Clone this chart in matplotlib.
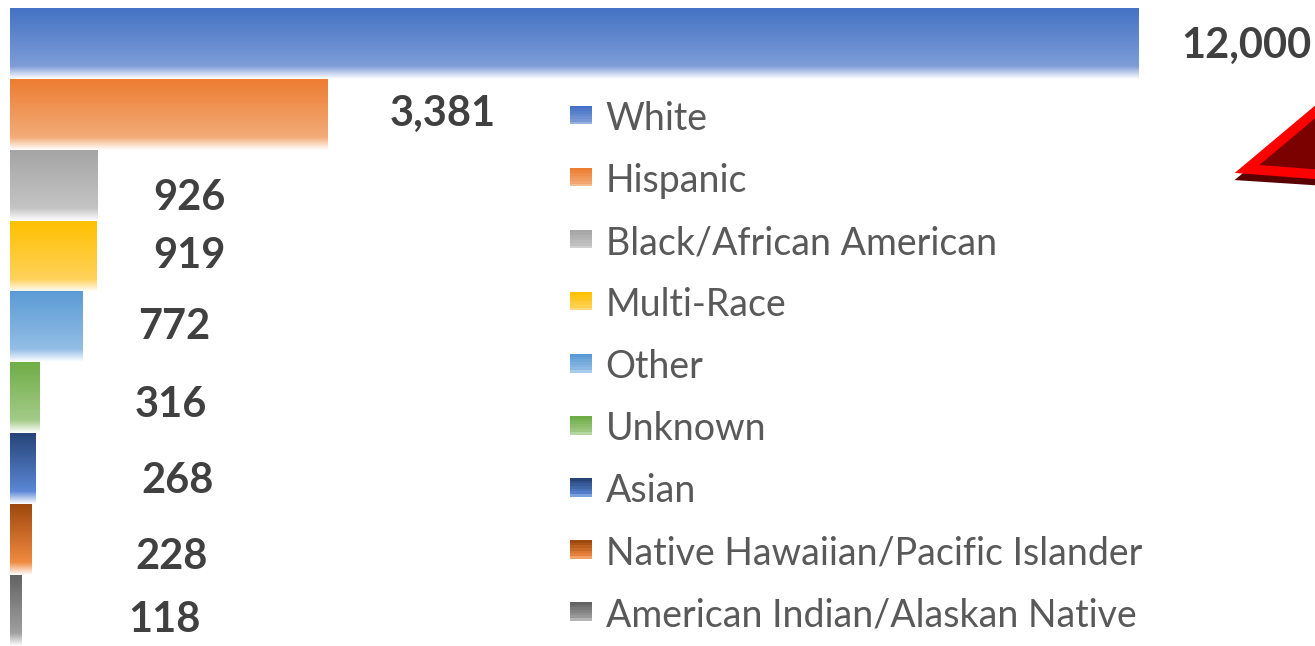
import numpy as np
import matplotlib
matplotlib.use("Agg")
import matplotlib.pyplot as plt
from matplotlib.colors import to_rgb
from matplotlib.patches import Polygon, Rectangle
from matplotlib.legend_handler import HandlerBase

# ---------------------------------------------------------------------------
# Dados
# ---------------------------------------------------------------------------
categorias = [
    "White",
    "Hispanic",
    "Black/African American",
    "Multi-Race",
    "Other",
    "Unknown",
    "Asian",
    "Native Hawaiian/Pacific Islander",
    "American Indian/Alaskan Native",
]
valores = [12000, 3381, 926, 919, 772, 316, 268, 228, 118]
rotulos = ["12,000", "3,381", "926", "919", "772", "316", "268", "228", "118"]

# cor do topo e cor clara antes do desbotamento para branco
cores_topo = ["#4472C4", "#ED7D31", "#A5A5A5", "#FFC000", "#5B9BD5",
              "#70AD47", "#264478", "#9E480E", "#636363"]
cores_base = ["#7E9DD8", "#F3AB78", "#C4C4C4", "#FFD25C", "#93BEE6",
              "#A3CB88", "#5B87D6", "#F08A40", "#A0A0A0"]

# deslocamento dos rótulos (pixels: dx a partir do fim da barra, dy p/ cima)
desloc_rotulos = [(43, -2), (62, 0), (56, -13), (57, 0), (56, 0),
                  (95, -7), (106, -12), (104, -17), (107, -9)]

W, H = 1315, 646
COR_NUM = "#404040"
COR_LEG = "#595959"
FONTE = "Lato"


def gradiente(topo, base, n=200):
    """Topo -> base em 82% da altura, depois base -> branco."""
    t = np.linspace(0, 1, n)
    c1, c2, wh = np.array(to_rgb(topo)), np.array(to_rgb(base)), np.ones(3)
    out = np.zeros((n, 1, 3))
    for i, ti in enumerate(t):
        if ti < 0.82:
            f = ti / 0.82
            out[i, 0] = c1 * (1 - f) + c2 * f
        else:
            f = (ti - 0.82) / 0.18
            out[i, 0] = c2 * (1 - f) + wh * f
    return np.clip(out, 0, 1)


class HandlerGradiente(HandlerBase):
    def __init__(self, topo, base):
        super().__init__()
        self.topo, self.base = topo, base

    def create_artists(self, legend, orig_handle, xdescent, ydescent,
                       width, height, fontsize, trans):
        g = gradiente(self.topo, self.base, n=8)
        arts = []
        for k in range(8):
            h = height / 8
            y = -ydescent + height - (k + 1) * h
            arts.append(Rectangle((-xdescent, y), width, h + 0.3,
                                  facecolor=tuple(g[k, 0]), edgecolor="none",
                                  transform=trans))
        return arts


fig = plt.figure(figsize=(W / 100, H / 100), dpi=100)
ax = fig.add_axes([10 / W, 0, (W - 10) / W, (H - 8) / H])

y_pos = np.arange(len(categorias))
barras = ax.barh(y_pos, valores, height=1.0, color="none", edgecolor="none")

for b, ct, cb in zip(barras, cores_topo, cores_base):
    x0, y0 = b.get_x(), b.get_y()
    ax.imshow(gradiente(ct, cb), extent=[x0, x0 + b.get_width(),
                                         y0 + b.get_height(), y0],
              aspect="auto", interpolation="bilinear", zorder=2)

ax.set_xlim(0, 13880)
ax.set_ylim(len(categorias) - 0.5, -0.5)

for b, txt, (dx, dy) in zip(barras, rotulos, desloc_rotulos):
    ax.annotate(txt, (b.get_width(), b.get_y() + b.get_height() / 2),
                xytext=(dx, dy), textcoords="offset pixels",
                ha="left", va="center", fontsize=30, fontweight="bold",
                color=COR_NUM, family=FONTE, annotation_clip=False)

ax.axis("off")

# legenda
handles = [Rectangle((0, 0), 1, 1) for _ in categorias]
hmap = {h: HandlerGradiente(ct, cb)
        for h, ct, cb in zip(handles, cores_topo, cores_base)}
leg = fig.legend(handles, categorias, handler_map=hmap,
                 loc="upper left", bbox_to_anchor=(570 / W, 1 - 101 / H),
                 frameon=False, prop={"family": FONTE, "size": 27},
                 handlelength=0.59, handleheight=0.5, handletextpad=0.36,
                 labelspacing=0.695, borderaxespad=0, borderpad=0)
for t in leg.get_texts():
    t.set_color(COR_LEG)


# triângulo vermelho (cortado na borda direita)
def px(x, y):
    return (x / W, 1 - y / H)


sombra = Polygon([px(1247, 176), px(1340, 98), px(1340, 182)],
                 closed=True, facecolor="#5a0000", edgecolor="#5a0000",
                 lw=7, joinstyle="miter", transform=fig.transFigure)
tri = Polygon([px(1247, 169), px(1340, 91), px(1340, 176)],
              closed=True, facecolor="#7B0000", edgecolor="#FF0000",
              lw=7, joinstyle="miter", transform=fig.transFigure)
fig.add_artist(sombra)
fig.add_artist(tri)

fig.savefig("out.png", dpi=100)
